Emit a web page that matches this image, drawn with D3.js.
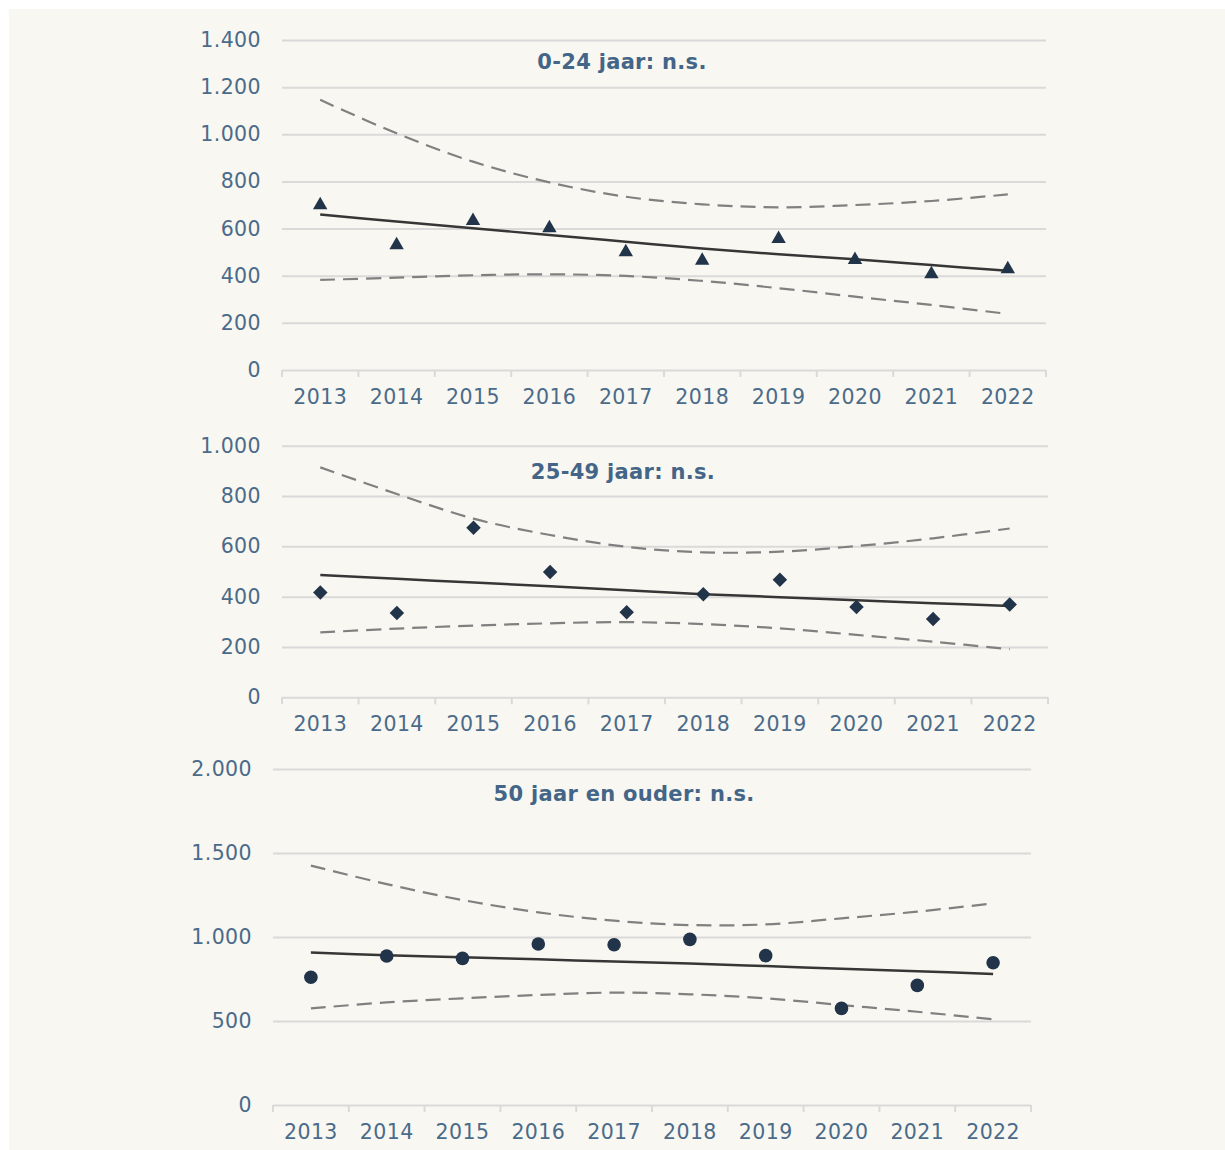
<!DOCTYPE html>
<html>
<head>
<meta charset="utf-8">
<script src="https://cdn.jsdelivr.net/npm/d3@7"></script>
<style>
  body { margin: 0; background: #ffffff; }
  text { font-family: "DejaVu Sans", Verdana, sans-serif; }
</style>
</head>
<body>
<div id="chart"></div>
<script>
// years on the x axis
var years = [2013, 2014, 2015, 2016, 2017, 2018, 2019, 2020, 2021, 2022];

// 0-24 jaar
var obs0_24   = [700, 530, 633, 602, 500, 464, 556, 467, 407, 428];
var trend0_24 = [660, 630, 601, 573, 544, 515, 491, 470, 445, 421];
var upper0_24 = [1146, 1004, 884, 796, 735, 703, 690, 700, 717, 745];
var lower0_24 = [382, 392, 402, 406, 399, 378, 347, 311, 276, 238];

// 25-49 jaar
var obs25_49   = [417, 335, 674, 498, 338, 410, 467, 359, 311, 369];
var trend25_49 = [486, 471, 456, 441, 425, 410, 398, 386, 374, 363];
var upper25_49 = [914, 808, 710, 645, 598, 576, 579, 601, 632, 671];
var lower25_49 = [258, 273, 285, 294, 299, 291, 274, 248, 221, 191];

// 50 jaar en ouder
var obs50   = [760, 887, 873, 958, 954, 986, 889, 575, 712, 847];
var trend50 = [907, 891, 879, 867, 854, 842, 827, 811, 796, 780];
var upper50 = [1425, 1315, 1220, 1147, 1097, 1071, 1075, 1111, 1151, 1200];
var lower50 = [575, 611, 635, 655, 669, 659, 635, 595, 555, 510];

// tick labels
var ticks0_24  = [0, 200, 400, 600, 800, 1000, 1200, 1400];
var ticks25_49 = [0, 200, 400, 600, 800, 1000];
var ticks50    = [0, 500, 1000, 1500, 2000];

var titles = ["0-24 jaar: n.s.", "25-49 jaar: n.s.", "50 jaar en ouder: n.s."];

var W = 1225, H = 1150;
var textColor = '#4a6b8a';
var titleColor = '#436587';
var markColor = '#22344a';
var gridColor = '#dadada';

var nl = d3.formatLocale({decimal: ",", thousands: ".", grouping: [3], currency: ["€", ""]});
var fmt = nl.format(",d");

var svg = d3.select('#chart').append('svg')
    .attr('width', W)
    .attr('height', H);

svg.append('rect')
    .attr('x', 9).attr('y', 9)
    .attr('width', W - 9).attr('height', H - 9)
    .attr('fill', '#f9f7f1');

var panels = [
    {left: 282, right: 1046, top: 40, bottom: 370, max: 1400, ticks: ticks0_24,
     obs: obs0_24, trend: trend0_24, upper: upper0_24, lower: lower0_24,
     title: titles[0], tx: 622, ty: 62, marker: 'triangle'},
    {left: 282, right: 1048, top: 445.7, bottom: 697.3, max: 1000, ticks: ticks25_49,
     obs: obs25_49, trend: trend25_49, upper: upper25_49, lower: lower25_49,
     title: titles[1], tx: 623, ty: 472, marker: 'diamond'},
    {left: 273, right: 1031, top: 769, bottom: 1105, max: 2000, ticks: ticks50,
     obs: obs50, trend: trend50, upper: upper50, lower: lower50,
     title: titles[2], tx: 624, ty: 794, marker: 'circle'}
];

panels.forEach(function(p) {
    var x = d3.scaleBand().domain(years).range([p.left, p.right]).padding(0);
    var y = d3.scaleLinear().domain([0, p.max]).range([p.bottom, p.top]);
    var cx = function(d, i) { return x(years[i]) + x.bandwidth() / 2; };

    var g = svg.append('g');

    // gridlines + y labels
    var yAxis = g.append('g')
        .attr('transform', 'translate(' + p.left + ',0)')
        .call(d3.axisLeft(y).tickValues(p.ticks).tickFormat(fmt)
            .tickSize(-(p.right - p.left)).tickPadding(21));
    yAxis.select('.domain').remove();
    yAxis.selectAll('line').attr('stroke', gridColor).attr('stroke-width', 2);
    yAxis.selectAll('text')
        .attr('fill', textColor)
        .style('font-size', '20.5px')
        .style('letter-spacing', '0.4px');

    // x axis labels
    var xAxis = g.append('g')
        .attr('transform', 'translate(0,' + p.bottom + ')')
        .call(d3.axisBottom(x).tickSize(0).tickPadding(19));
    xAxis.select('.domain').remove();
    xAxis.selectAll('text')
        .attr('fill', textColor)
        .style('font-size', '20.5px')
        .style('letter-spacing', '0.4px');

    // category boundary ticks
    var bounds = years.map(function(d) { return x(d); }).concat([p.right]);
    g.selectAll('.xtick')
        .data(bounds)
        .enter()
        .append('line')
        .attr('x1', function(d) { return d; })
        .attr('x2', function(d) { return d; })
        .attr('y1', p.bottom)
        .attr('y2', p.bottom + 7)
        .attr('stroke', gridColor)
        .attr('stroke-width', 2);

    // title
    g.append('text')
        .attr('x', p.tx)
        .attr('y', p.ty)
        .attr('text-anchor', 'middle')
        .attr('dominant-baseline', 'central')
        .attr('fill', titleColor)
        .style('font-size', '21px')
        .style('letter-spacing', '0.3px')
        .style('font-weight', 'bold')
        .text(p.title);

    var line = d3.line()
        .x(cx)
        .y(function(d) { return y(d); })
        .curve(d3.curveCatmullRom);

    // confidence band (dashed)
    [p.upper, p.lower].forEach(function(arr) {
        g.append('path')
            .datum(arr)
            .attr('d', line)
            .attr('fill', 'none')
            .attr('stroke', '#808080')
            .attr('stroke-width', 2.2)
            .attr('stroke-dasharray', '15,8');
    });

    // trend
    g.append('path')
        .datum(p.trend)
        .attr('d', line)
        .attr('fill', 'none')
        .attr('stroke', '#363636')
        .attr('stroke-width', 2.5);

    // observed values
    var sym;
    if (p.marker === 'triangle') sym = d3.symbol().type(d3.symbolTriangle).size(90);
    else if (p.marker === 'diamond') sym = d3.symbol().type(d3.symbolSquare).size(105);
    else sym = d3.symbol().type(d3.symbolCircle).size(145);

    g.selectAll('.pt')
        .data(p.obs)
        .enter()
        .append('path')
        .attr('d', sym)
        .attr('transform', function(d, i) {
            var t = 'translate(' + cx(d, i) + ',' + y(d) + ')';
            if (p.marker === 'diamond') t += ' rotate(45)';
            return t;
        })
        .attr('fill', markColor);
});
</script>
</body>
</html>
